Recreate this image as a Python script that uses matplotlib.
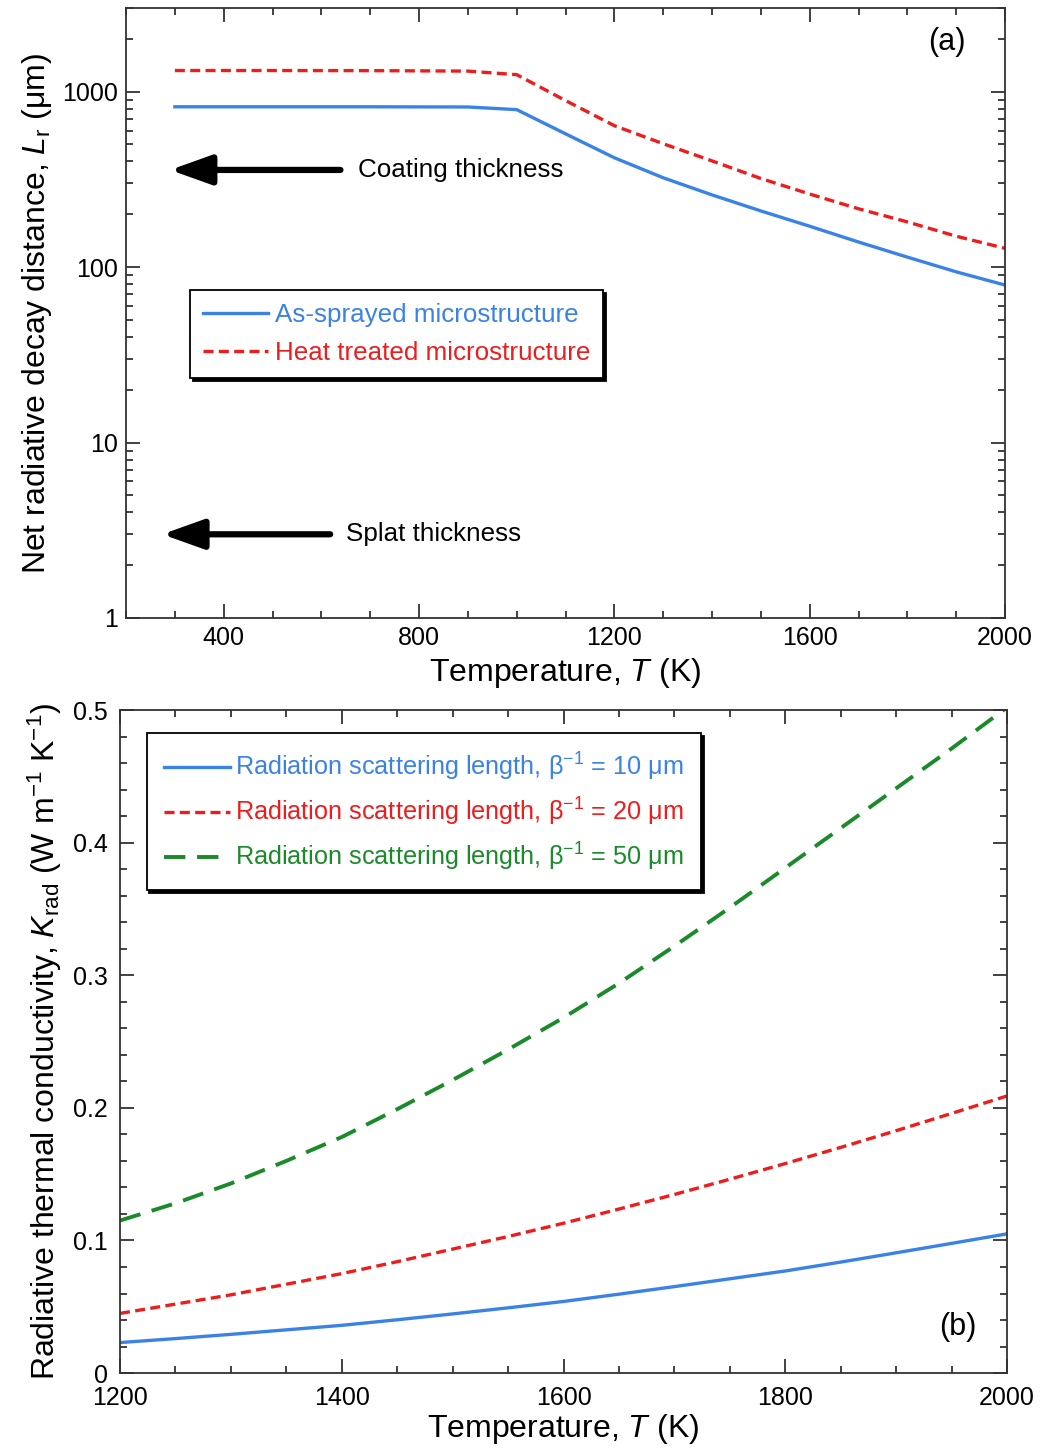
import matplotlib
matplotlib.use("Agg")
import matplotlib.pyplot as plt
from matplotlib.ticker import FixedLocator, MultipleLocator, LogLocator, NullFormatter, FuncFormatter

plt.rcParams['font.family'] = ['Liberation Sans', 'DejaVu Sans']
plt.rcParams['mathtext.fontset'] = 'custom'
plt.rcParams['mathtext.rm'] = 'Liberation Sans'
plt.rcParams['mathtext.it'] = 'Liberation Sans:italic'
plt.rcParams['mathtext.default'] = 'regular'

# --- panel (a): net radiative decay distance ---
temp_a = [300, 500, 700, 900, 1000, 1100, 1200, 1300, 1400, 1500, 1600, 1700, 1800, 1900, 2000]
lr_sprayed = [820, 820, 820, 818, 790, 575, 420, 323, 258, 209, 171, 139, 114, 94, 79]
lr_heat = [1320, 1320, 1318, 1310, 1250, 890, 640, 505, 403, 320, 261, 215, 181, 150, 128]

coating_y = 358
splat_y = 3

# --- panel (b): radiative thermal conductivity ---
temp_b = [1200, 1250, 1300, 1350, 1400, 1450, 1500, 1550, 1600,
          1650, 1700, 1750, 1800, 1850, 1900, 1950, 2000]
k_10 = [0.023, 0.026, 0.0292, 0.0326, 0.036, 0.0402, 0.0446, 0.0492, 0.054,
        0.0595, 0.0652, 0.0711, 0.077, 0.0837, 0.0907, 0.0978, 0.105]
k_20 = [0.045, 0.052, 0.059, 0.067, 0.075, 0.084, 0.0935, 0.103, 0.113,
        0.1237, 0.1347, 0.1462, 0.158, 0.1702, 0.1828, 0.1958, 0.209]
k_50 = [0.115, 0.128, 0.143, 0.160, 0.178, 0.199, 0.221, 0.244, 0.268,
        0.294, 0.322, 0.351, 0.381, 0.411, 0.441, 0.471, 0.502]

blue = '#3b82e6'
red = '#ee1d1d'
green = '#1b8a2b'
spine_c = '#333333'

fig = plt.figure(figsize=(10.4, 14.49), dpi=100)
ax1 = fig.add_axes([0.1212, 0.5735, 0.8452, 0.421])
ax2 = fig.add_axes([0.1154, 0.0524, 0.853, 0.4576])


def style_axes(ax, ypad=6):
    for s in ax.spines.values():
        s.set_linewidth(1.3)
        s.set_color(spine_c)
    ax.tick_params(which='both', direction='in', top=True, right=True,
                   color=spine_c, width=1.3, labelsize=18, pad=6)
    ax.tick_params(axis='y', pad=ypad)
    ax.tick_params(which='major', length=10)
    ax.tick_params(which='minor', length=5)


# panel (a)
ax1.plot(temp_a, lr_sprayed, color=blue, lw=2.4, label='As-sprayed microstructure')
ax1.plot(temp_a, lr_heat, color=red, lw=2.4, ls=(0, (3, 1.6)), label='Heat treated microstructure')
ax1.set_yscale('log')
ax1.set_xlim(200, 2000)
ax1.set_ylim(1, 3000)
ax1.xaxis.set_major_locator(MultipleLocator(400))
ax1.xaxis.set_minor_locator(MultipleLocator(100))
ax1.yaxis.set_major_locator(FixedLocator([1, 10, 100, 1000]))
ax1.yaxis.set_major_formatter(FuncFormatter(lambda v, p: '%d' % v))
ax1.yaxis.set_minor_locator(LogLocator(base=10, subs=range(2, 10)))
ax1.yaxis.set_minor_formatter(NullFormatter())
style_axes(ax1)
ax1.set_xlabel('Temperature, $\\mathit{T}$ (K)', fontsize=23, labelpad=4)
ax1.set_ylabel('Net radiative decay distance, $\\mathit{L}_{r}$ (μm)', fontsize=23, labelpad=6)

arrow_kw = dict(arrowstyle='-|>,head_length=1.4,head_width=0.5', color='black',
                lw=4.5, shrinkA=0, shrinkB=0, mutation_scale=18)
ax1.annotate('', xy=(290, coating_y), xytext=(639, coating_y), arrowprops=arrow_kw)
ax1.text(676, coating_y, 'Coating thickness', fontsize=18.7, va='center', ha='left')
ax1.annotate('', xy=(274, splat_y), xytext=(618, splat_y), arrowprops=arrow_kw)
ax1.text(651, splat_y, 'Splat thickness', fontsize=18.7, va='center', ha='left')
ax1.text(0.955, 0.945, '(a)', transform=ax1.transAxes, fontsize=22, ha='right', va='center')

leg1 = ax1.legend(loc='upper left', bbox_to_anchor=(0.073, 0.538), borderaxespad=0,
                  fontsize=18.7, labelcolor='linecolor', fancybox=False, framealpha=1,
                  edgecolor='black', handlelength=2.5, handletextpad=0.25,
                  labelspacing=0.55, borderpad=0.5,
                  shadow={'color': 'black', 'alpha': 1})
leg1.get_frame().set_linewidth(1.3)

# panel (b)
ax2.plot(temp_b, k_10, color=blue, lw=2.4,
         label='Radiation scattering length, β$^{-1}$ = 10 μm')
ax2.plot(temp_b, k_20, color=red, lw=2.4, ls=(0, (3, 1.6)),
         label='Radiation scattering length, β$^{-1}$ = 20 μm')
ax2.plot(temp_b, k_50, color=green, lw=2.8, ls=(0, (5.5, 3)),
         label='Radiation scattering length, β$^{-1}$ = 50 μm')
ax2.set_xlim(1200, 2000)
ax2.set_ylim(0, 0.5)
ax2.xaxis.set_major_locator(MultipleLocator(200))
ax2.xaxis.set_minor_locator(MultipleLocator(50))
ax2.yaxis.set_major_locator(MultipleLocator(0.1))
ax2.yaxis.set_minor_locator(MultipleLocator(0.02))
ax2.yaxis.set_major_formatter(FuncFormatter(lambda v, p: '0' if abs(v) < 1e-9 else '%.1f' % v))
style_axes(ax2, ypad=9)
ax2.tick_params(axis='x', pad=9)
ax2.set_xlabel('Temperature, $\\mathit{T}$ (K)', fontsize=23, labelpad=2)
ax2.set_ylabel('Radiative thermal conductivity, $\\mathit{K}_{rad}$ (W m$^{-1}$ K$^{-1}$)',
               fontsize=23, labelpad=6)
ax2.text(0.965, 0.07, '(b)', transform=ax2.transAxes, fontsize=22, ha='right', va='center')

leg2 = ax2.legend(loc='upper left', bbox_to_anchor=(0.030, 0.965), borderaxespad=0,
                  fontsize=18.2, labelcolor='linecolor', fancybox=False, framealpha=1,
                  edgecolor='black', handlelength=2.6, handletextpad=0.2,
                  labelspacing=0.5, borderpad=0.7,
                  shadow={'color': 'black', 'alpha': 1})
leg2.get_frame().set_linewidth(1.3)

fig.savefig('out.png', dpi=100)
